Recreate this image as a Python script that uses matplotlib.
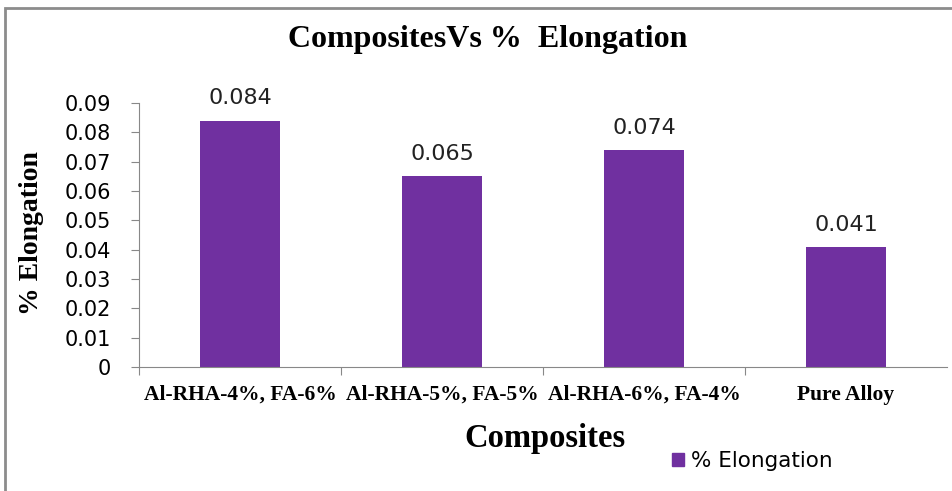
import matplotlib.pyplot as plt
import matplotlib.patches as mpatches
import numpy as np

categories = ['Al-RHA-4%, FA-6%', 'Al-RHA-5%, FA-5%', 'Al-RHA-6%, FA-4%', 'Pure Alloy']
elongation = [0.084, 0.065, 0.074, 0.041]
yticks = [0, 0.01, 0.02, 0.03, 0.04, 0.05, 0.06, 0.07, 0.08, 0.09]
ytick_labels = ['0', '0.01', '0.02', '0.03', '0.04', '0.05', '0.06', '0.07', '0.08', '0.09']

purple = '#7030A0'
serif = 'Liberation Serif'

fig = plt.figure(figsize=(9.52, 4.91), dpi=100)
ax = fig.add_axes([139 / 952, 1 - 367 / 491, 808 / 952, 264 / 491])

x = np.arange(len(categories))
bars = ax.bar(x, elongation, width=0.4, color=purple, label='% Elongation')

for b, v in zip(bars, elongation):
    ax.annotate(f'{v:.3f}', (b.get_x() + b.get_width() / 2, v),
                xytext=(0, 16), textcoords='offset points',
                ha='center', va='center', fontsize=16, color='#222222')

ax.set_xlim(-0.5, len(categories) - 0.5)
ax.set_ylim(0, 0.09)
ax.set_yticks(yticks)
ax.set_yticklabels(ytick_labels, fontsize=15)

# ticks at category boundaries, labels at centres
ax.set_xticks(np.arange(len(categories)) - 0.5)
ax.set_xticklabels([])
ax.set_xticks(x, minor=True)
ax.set_xticklabels(categories, minor=True, fontfamily=serif, fontweight='bold', fontsize=15.5)
ax.tick_params(axis='x', which='minor', length=0, pad=13)
ax.tick_params(axis='x', which='major', length=6, color='#888888', direction='out')
ax.tick_params(axis='y', length=6, color='#888888', direction='out', pad=14)

for side in ['top', 'right']:
    ax.spines[side].set_visible(False)
for side in ['left', 'bottom']:
    ax.spines[side].set_color('#888888')

fig.text(488 / 952, 1 - 40 / 491, 'CompositesVs %  Elongation', ha='center', va='center',
         fontfamily=serif, fontweight='bold', fontsize=23)
fig.text(32 / 952, 1 - 233 / 491, '% Elongation', ha='center', va='center', rotation=90,
         fontfamily=serif, fontweight='bold', fontsize=20)
fig.text(545 / 952, 1 - 438 / 491, 'Composites', ha='center', va='center',
         fontfamily=serif, fontweight='bold', fontsize=23.5)

fig.legend(handles=[mpatches.Patch(color=purple, label='% Elongation')],
           loc='center left', bbox_to_anchor=(653 / 952, 1 - 461 / 491),
           frameon=False, fontsize=15.5, handlelength=0.55, handleheight=0.55,
           handletextpad=0.3)

border = mpatches.Rectangle((5 / 952, -0.1), 1.2, 1 - 8 / 491 + 0.1,
                            transform=fig.transFigure, fill=False,
                            edgecolor='#8c8c8c', linewidth=2)
fig.patches.append(border)

fig.savefig('out.png', dpi=100)
